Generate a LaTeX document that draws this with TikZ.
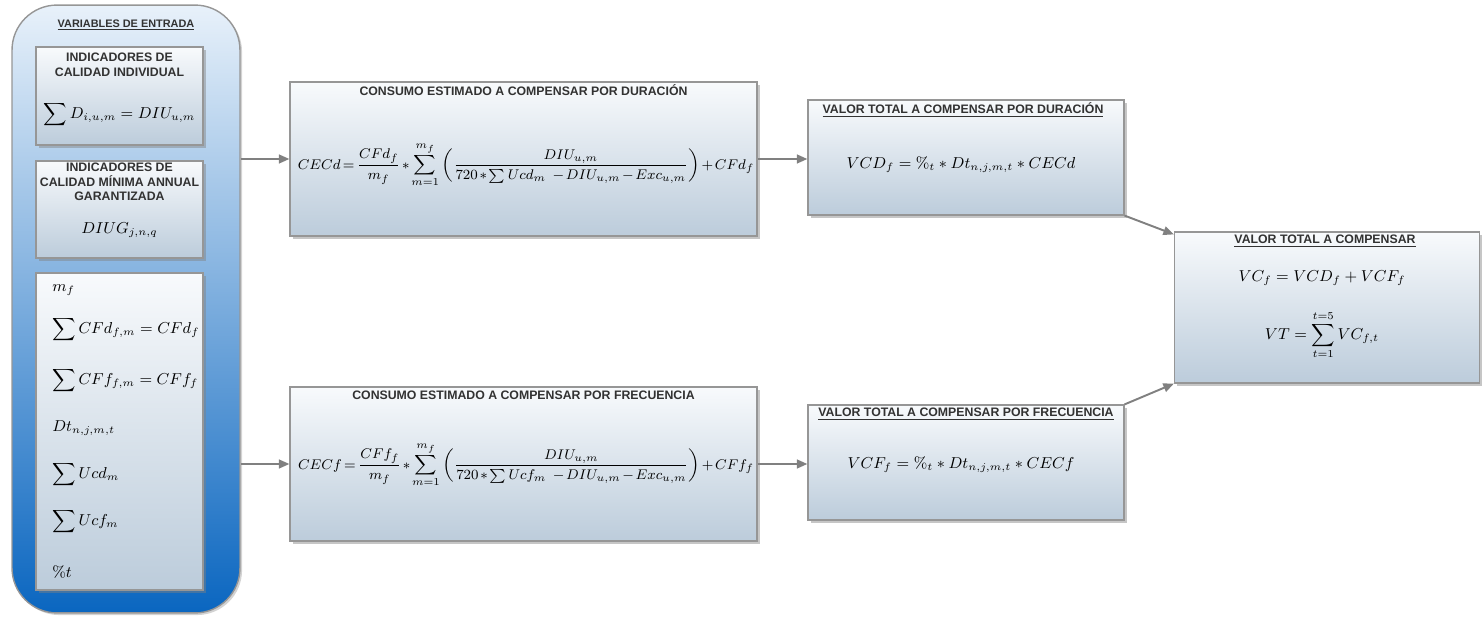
\documentclass[tikz,border=0pt]{standalone}
\usepackage{amsmath}
\usepackage{fontspec}
\setsansfont{Liberation Sans}
\usetikzlibrary{arrows.meta,positioning,calc,shadows}
\definecolor{vcazulA}{RGB}{232,241,250}
\definecolor{vcazulB}{RGB}{150,196,236}
\definecolor{vcazulC}{RGB}{10,102,192}
\definecolor{vccajaA}{RGB}{248,250,252}
\definecolor{vccajaB}{RGB}{188,204,219}
\definecolor{vcborde}{RGB}{150,150,150}
\definecolor{vcgris}{RGB}{128,128,128}
\definecolor{vctexto}{RGB}{50,50,50}
% tighter math spacing for the long formulas
\newcommand{\apretado}{\medmuskip=2mu\relax\thickmuskip=3mu\relax}

\begin{document}
\begin{tikzpicture}[x=0.02cm, y=-0.02cm,
  entrada/.style={rectangle, rounded corners=0.9cm, draw=vcborde, line width=0.8pt,
    top color=vcazulA, middle color=vcazulB, bottom color=vcazulC,
    minimum width=4.56cm, minimum height=12.16cm,
    drop shadow={opacity=0.35, shadow xshift=1.2pt, shadow yshift=-1.2pt}},
  caja/.style={rectangle, draw=vcborde, line width=0.7pt,
    top color=vccajaA, bottom color=vccajaB,
    drop shadow={opacity=0.45, shadow xshift=1.5pt, shadow yshift=-1.5pt}},
  titulo/.style={font=\sffamily\bfseries\fontsize{7}{8.4}\selectfont, text=vctexto,
    align=center, inner sep=0pt},
  formula/.style={font=\fontsize{9}{11}\selectfont, inner sep=0pt},
  grande/.style={formula, font=\fontsize{7.9}{9.5}\selectfont},
  flecha/.style={draw=vcgris, line width=1.1pt, -{Triangle[length=6pt,width=5pt]}}
]
  \useasboundingbox (0,0) rectangle (1482,618);

  % Entry variables
  \node[entrada] (vars) at (126,309) {};
  \node[titulo, font=\sffamily\bfseries\fontsize{6.2}{7.4}\selectfont] (varstit) at (126,25) {\underline{VARIABLES DE ENTRADA}};

  \node[caja, minimum width=3.34cm, minimum height=1.96cm] (ind1) at (119.5,96) {};
  \node[titulo] (ind1tit) at (119.5,65) {INDICADORES DE\\CALIDAD INDIVIDUAL};
  \node[formula] (ind1f) at (119.5,115) {$\displaystyle\sum D_{i,u,m}=DIU_{u,m}$};

  \node[caja, minimum width=3.34cm, minimum height=1.94cm] (ind2) at (119.5,209.5) {};
  \node[titulo] (ind2tit) at (119.5,182) {INDICADORES DE\\CALIDAD MÍNIMA ANNUAL\\GARANTIZADA};
  \node[formula] (ind2f) at (119.5,230) {$DIUG_{j,n,q}$};

  \node[caja, minimum width=3.34cm, minimum height=6.34cm] (lista) at (119.5,431.5) {};
  \node[formula, anchor=west] (vmf)  at (52,290) {$m_f$};
  \node[formula, anchor=west] (vcfd) at (52,330) {$\displaystyle\sum CFd_{f,m}=CFd_f$};
  \node[formula, anchor=west] (vcff) at (52,381) {$\displaystyle\sum CFf_{f,m}=CFf_f$};
  \node[formula, anchor=west] (vdt)  at (52,428) {$Dt_{n,j,m,t}$};
  \node[formula, anchor=west] (vucd) at (52,475) {$\displaystyle\sum Ucd_m$};
  \node[formula, anchor=west] (vucf) at (52,522) {$\displaystyle\sum Ucf_m$};
  \node[formula, anchor=west] (vpct) at (52,572) {$\%t$};

  % Estimated consumption
  \node[caja, minimum width=9.34cm, minimum height=3.08cm] (cecd) at (523.5,159) {};
  \node[titulo] (cecdtit) at (523.5,90) {CONSUMO ESTIMADO A COMPENSAR POR DURACIÓN};
  \node[grande] (cecdf) at (526,165) {$\apretado\displaystyle CECd=\frac{CFd_f}{m_f}*\sum_{m=1}^{m_f}\left(\frac{DIU_{u,m}}{720*\sum Ucd_m\;\,-DIU_{u,m}-Exc_{u,m}}\right)+CFd_f$};

  \node[caja, minimum width=9.34cm, minimum height=3.08cm] (cecf) at (523.5,464) {};
  \node[titulo] (cecftit) at (523.5,395) {CONSUMO ESTIMADO A COMPENSAR POR FRECUENCIA};
  \node[grande] (cecff) at (526,465) {$\apretado\displaystyle CECf=\frac{CFf_f}{m_f}*\sum_{m=1}^{m_f}\left(\frac{DIU_{u,m}}{720*\sum Ucf_m\;\,-DIU_{u,m}-Exc_{u,m}}\right)+CFf_f$};

  % Values to compensate
  \node[caja, minimum width=6.32cm, minimum height=2.3cm] (vcd) at (966,157.5) {};
  \node[titulo] (vcdtit) at (963,110) {\underline{VALOR TOTAL A COMPENSAR POR DURACIÓN}};
  \node[formula] (vcdf) at (961,165) {$VCD_f=\%_t*Dt_{n,j,m,t}*CECd$};

  \node[caja, minimum width=6.32cm, minimum height=2.3cm] (vcf) at (966,462.5) {};
  \node[titulo] (vcftit) at (966,414) {\underline{VALOR TOTAL A COMPENSAR POR FRECUENCIA}};
  \node[formula] (vcff) at (961,465) {$VCF_f=\%_t*Dt_{n,j,m,t}*CECf$};

  \node[caja, minimum width=6.1cm, minimum height=3.02cm] (vt) at (1327,307.5) {};
  \node[titulo] (vttit) at (1325,241) {\underline{VALOR TOTAL A COMPENSAR}};
  \node[formula] (vtf1) at (1322,278) {$VC_f=VCD_f+VCF_f$};
  \node[formula] (vtf2) at (1322,335) {$\displaystyle VT=\sum_{t=1}^{t=5}VC_{f,t}$};

  % Arrows
  \draw[flecha] (cecd.west -| vars.east) -- (cecd.west);
  \draw[flecha] (cecf.west -| vars.east) -- (cecf.west);
  \draw[flecha] (cecd.east) -- (cecd.east -| vcd.west);
  \draw[flecha] (cecf.east) -- (cecf.east -| vcf.west);
  \draw[flecha] (vcd.south east) -- ($(vt.north west)+(0,3)$);
  \draw[flecha] (vcf.north east) -- (vt.south west);
\end{tikzpicture}
\end{document}
